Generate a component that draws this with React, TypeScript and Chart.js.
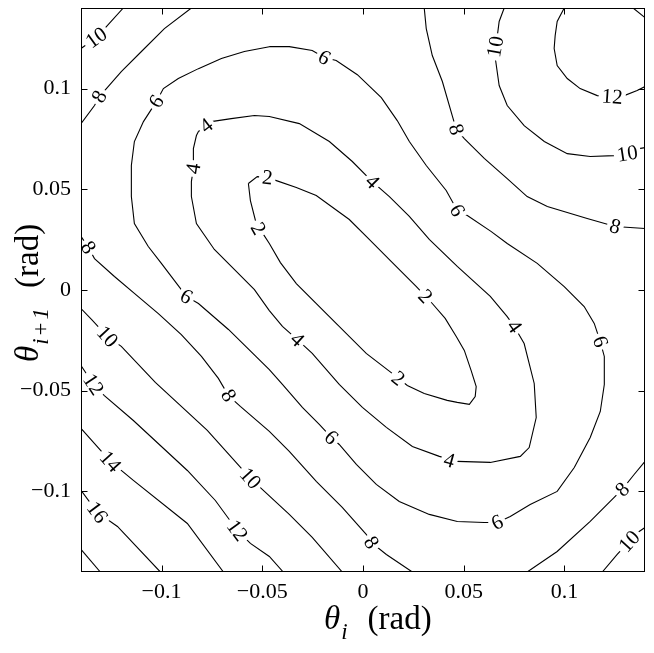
import React, { useEffect, useRef } from "react";
import { Chart, registerables } from "chart.js";

Chart.register(...registerables);

const SERIF = "'Liberation Serif', 'Times New Roman', Times, serif";

type Pt = [number, number];

// axis
const axisMin = -0.14;
const axisMax = 0.14;
const xTickValues = [-0.1, -0.05, 0, 0.05, 0.1];
const xTickLabels = ["\u22120.1", "\u22120.05", "0", "0.05", "0.1"];
const yTickValues = [-0.1, -0.05, 0, 0.05, 0.1];
const yTickLabels = ["\u22120.1", "\u22120.05", "0", "0.05", "0.1"];

// contour lines (theta_i, theta_i+1) in rad
const level2Loop: Pt[] = [
  [-0.0569, 0.0529], [-0.0525, 0.0563], [-0.0475, 0.0558], [-0.043, 0.0543], [-0.0331, 0.0509],
  [-0.0232, 0.0469], [-0.0068, 0.035], [0.0031, 0.0251], [0.0131, 0.0151], [0.0265, 0.0017],
  [0.0344, -0.0067], [0.0408, -0.0141], [0.0463, -0.0231], [0.0503, -0.03], [0.0537, -0.04],
  [0.0562, -0.0479], [0.0557, -0.0529], [0.0528, -0.0568], [0.0468, -0.0558], [0.0418, -0.0548],
  [0.0304, -0.0514], [0.022, -0.0474], [0.0145, -0.0414], [0.0016, -0.0315], [-0.0167, -0.0132],
  [-0.0331, 0.0032], [-0.041, 0.0136], [-0.0465, 0.0231], [-0.05, 0.0285], [-0.0534, 0.0345],
  [-0.0559, 0.0444], [-0.0569, 0.0529],
];

const level4Loop: Pt[] = [
  [-0.0817, 0.0787], [-0.0753, 0.0836], [-0.0654, 0.0851], [-0.0539, 0.0866], [-0.0465, 0.0861],
  [-0.0316, 0.0826], [-0.0167, 0.0737], [-0.0053, 0.0638], [0.0046, 0.0538], [0.0131, 0.0464],
  [0.023, 0.0365], [0.0329, 0.0251], [0.0468, 0.0117], [0.0632, -0.0032], [0.0716, -0.0132],
  [0.0751, -0.0181], [0.08, -0.0266], [0.085, -0.0464], [0.086, -0.0633], [0.0825, -0.0782],
  [0.0781, -0.0826], [0.0632, -0.0856], [0.0468, -0.0851], [0.0379, -0.0826], [0.0245, -0.0777],
  [0.0116, -0.0682], [-0.0003, -0.0583], [-0.0118, -0.0469], [-0.0252, -0.0315], [-0.0326, -0.0246],
  [-0.04, -0.0181], [-0.0465, -0.0102], [-0.0539, 0.0002], [-0.0639, 0.0102], [-0.0738, 0.0201],
  [-0.0827, 0.033], [-0.0852, 0.0464], [-0.0852, 0.0538], [-0.0842, 0.0603], [-0.0842, 0.0702],
  [-0.0827, 0.0767], [-0.0817, 0.0787],
];

const level6Loop: Pt[] = [
  [-0.0465, 0.1208], [-0.0366, 0.1208], [-0.0252, 0.1189], [-0.0192, 0.1154], [-0.0133, 0.1139],
  [-0.0028, 0.1069], [0.0091, 0.0955], [0.017, 0.0841], [0.023, 0.0737], [0.0314, 0.0618],
  [0.0413, 0.0494], [0.0468, 0.0395], [0.0518, 0.037], [0.0637, 0.029], [0.0716, 0.0231],
  [0.0865, 0.0132], [0.0999, 0.0017], [0.1098, -0.0082], [0.1148, -0.0166], [0.1178, -0.0256],
  [0.1198, -0.033], [0.1198, -0.0469], [0.1178, -0.0603], [0.1128, -0.0732], [0.1049, -0.0881],
  [0.0964, -0.1], [0.083, -0.1065], [0.0731, -0.1124], [0.0667, -0.1154], [0.0602, -0.1154],
  [0.0468, -0.1149], [0.0329, -0.1114], [0.018, -0.105], [0.0066, -0.0965], [-0.0033, -0.0866],
  [-0.0118, -0.0767], [-0.0157, -0.0732], [-0.0217, -0.0667], [-0.0301, -0.0583], [-0.04, -0.0469],
  [-0.0465, -0.0395], [-0.0668, -0.0196], [-0.0817, -0.0067], [-0.0877, -0.0032], [-0.0902, 0.0002],
  [-0.1001, 0.0132], [-0.1066, 0.0216], [-0.1135, 0.033], [-0.115, 0.0464], [-0.115, 0.0618],
  [-0.1135, 0.0737], [-0.109, 0.0836], [-0.1026, 0.0935], [-0.0991, 0.1], [-0.0917, 0.105],
  [-0.0817, 0.1099], [-0.0703, 0.1149], [-0.0589, 0.1184], [-0.0465, 0.1208],
];

const level8A: Pt[] = [
  [-0.14, 0.0826], [-0.1333, 0.0916], [-0.1309, 0.096], [-0.1274, 0.1], [-0.12, 0.1084],
  [-0.11, 0.1184], [-0.0986, 0.1298], [-0.0852, 0.14],
];
const level8B: Pt[] = [
  [0.0304, 0.14], [0.0314, 0.1298], [0.0344, 0.1164], [0.0394, 0.1035], [0.0443, 0.0866],
  [0.0463, 0.0797], [0.0503, 0.0752], [0.0602, 0.0653], [0.0716, 0.0553], [0.0815, 0.0464],
  [0.0915, 0.0414], [0.1113, 0.0355], [0.1252, 0.0315], [0.14, 0.0305],
];
const level8C: Pt[] = [
  [-0.14, 0.0266], [-0.1363, 0.0211], [-0.1333, 0.0156], [-0.1234, 0.0067], [-0.1135, -0.0017],
  [-0.1016, -0.0117], [-0.0902, -0.0221], [-0.0802, -0.033], [-0.0718, -0.0439], [-0.0668, -0.0524],
  [-0.0609, -0.0578], [-0.0465, -0.0702], [-0.0366, -0.0801], [-0.0232, -0.095], [-0.0103, -0.1079],
  [0.0016, -0.1213], [0.0041, -0.1253], [0.0116, -0.1313], [0.0245, -0.14],
];
const level8D: Pt[] = [
  [0.0815, -0.14], [0.0964, -0.1298], [0.1128, -0.1149], [0.1247, -0.103], [0.1287, -0.099],
  [0.1346, -0.0916], [0.14, -0.0851],
];

const level10A: Pt[] = [[-0.14, 0.1199], [-0.1324, 0.1253], [-0.1274, 0.1308], [-0.119, 0.14]];
const level10B: Pt[] = [
  [0.0701, 0.14], [0.0676, 0.1333], [0.0667, 0.1263], [0.0657, 0.1208], [0.0657, 0.1149],
  [0.0676, 0.1015], [0.0716, 0.0916], [0.08, 0.0816], [0.09, 0.0737], [0.1014, 0.0677],
  [0.1128, 0.0663], [0.1247, 0.0667], [0.1312, 0.0677], [0.1371, 0.0702], [0.14, 0.0707],
];
const level10C: Pt[] = [
  [-0.14, -0.0092], [-0.1348, -0.0146], [-0.1269, -0.0231], [-0.12, -0.028], [-0.1031, -0.0459],
  [-0.0773, -0.0697], [-0.0559, -0.0935], [-0.0366, -0.1114], [-0.0252, -0.1228], [-0.0103, -0.14],
];
const level10D: Pt[] = [[0.1188, -0.14], [0.1262, -0.1313], [0.1322, -0.1248], [0.1371, -0.1199], [0.14, -0.1179]];

const level12A: Pt[] = [
  [-0.14, -0.0375], [-0.1338, -0.0469], [-0.1284, -0.0524], [-0.114, -0.0648], [-0.0872, -0.0896],
  [-0.0733, -0.1045], [-0.0624, -0.1194], [-0.0559, -0.1258], [-0.0465, -0.1323], [-0.0396, -0.14],
];
const level12B: Pt[] = [
  [0.0999, 0.14], [0.0964, 0.1333], [0.0954, 0.1263], [0.0949, 0.1199], [0.0964, 0.1114],
  [0.1014, 0.105], [0.1078, 0.1], [0.1163, 0.0965], [0.1237, 0.096], [0.1297, 0.0965],
  [0.1361, 0.099], [0.14, 0.101],
];

const level14A: Pt[] = [[-0.14, -0.0687], [-0.1254, -0.0851], [-0.114, -0.0945], [-0.0872, -0.1159], [-0.0693, -0.14]];
const level14B: Pt[] = [[0.1341, 0.14], [0.14, 0.1352]];
const level16: Pt[] = [[-0.14, -0.0995], [-0.1319, -0.1104], [-0.1219, -0.1174], [-0.1006, -0.14]];
const level18: Pt[] = [[-0.14, -0.1288], [-0.1304, -0.14]];

const contourLines: Record<number, Pt[][]> = {
  2: [level2Loop],
  4: [level4Loop],
  6: [level6Loop],
  8: [level8A, level8B, level8C, level8D],
  10: [level10A, level10B, level10C, level10D],
  12: [level12A, level12B],
  14: [level14A, level14B],
  16: [level16],
  18: [level18],
};

// inline labels: [level, theta_i, theta_i+1]
const contourLabels: [number, number, number][] = [
  [2, -0.0475, 0.0558], [2, -0.052, 0.0305], [2, 0.0309, -0.0032], [2, 0.0175, -0.0439],
  [4, -0.0778, 0.0816], [4, -0.0842, 0.0603], [4, 0.0046, 0.0538], [4, 0.0751, -0.0181],
  [4, 0.0428, -0.0846], [4, -0.0326, -0.0246],
  [6, -0.1026, 0.0935], [6, -0.0192, 0.1154], [6, 0.0468, 0.0395], [6, 0.1178, -0.0256],
  [6, 0.0667, -0.1154], [6, -0.0157, -0.0732], [6, -0.0877, -0.0032],
  [8, -0.1309, 0.096], [8, 0.0463, 0.0797], [8, 0.1252, 0.0315], [8, -0.1363, 0.0211],
  [8, -0.0668, -0.0524], [8, 0.0041, -0.1253], [8, 0.1287, -0.099],
  [10, -0.1324, 0.1253], [10, 0.0657, 0.1208], [10, 0.1312, 0.0677], [10, -0.1269, -0.0231],
  [10, -0.0559, -0.0935], [10, 0.1322, -0.1248],
  [12, 0.1237, 0.096], [12, -0.1338, -0.0469], [12, -0.0624, -0.1194],
  [14, -0.1254, -0.0851],
  [16, -0.1319, -0.1104],
];

type Part = { text: string; italic: boolean; size: number; shift: number; gap: number };
const xTitleParts: Part[] = [
  { text: "\u03B8", italic: true, size: 33, shift: 0, gap: 0 },
  { text: "i", italic: true, size: 23, shift: 10, gap: 1 },
  { text: "(rad)", italic: false, size: 33, shift: 0, gap: 20 },
];
const yTitleParts: Part[] = [
  { text: "\u03B8", italic: true, size: 33, shift: 0, gap: 0 },
  { text: "i", italic: true, size: 23, shift: 10, gap: 1 },
  { text: "+", italic: false, size: 23, shift: 10, gap: 3 },
  { text: "1", italic: true, size: 23, shift: 10, gap: 3 },
  { text: "(rad)", italic: false, size: 33, shift: 0, gap: 20 },
];

function drawParts(ctx: CanvasRenderingContext2D, parts: Part[]) {
  let x = 0;
  ctx.textAlign = "left";
  ctx.textBaseline = "alphabetic";
  ctx.fillStyle = "#000";
  for (const p of parts) {
    x += p.gap;
    ctx.font = `${p.italic ? "italic " : ""}${p.size}px ${SERIF}`;
    ctx.fillText(p.text, x, p.shift);
    x += ctx.measureText(p.text).width;
  }
}

const framePlugin = {
  id: "frameTicksTitles",
  afterDraw(chart: any) {
    const { ctx, chartArea: a, scales } = chart;
    const sx = scales.x;
    const sy = scales.y;
    ctx.save();
    ctx.strokeStyle = "#000";
    ctx.lineWidth = 1;
    const L = Math.round(a.left) + 0.5;
    const R = Math.round(a.right) - 0.5;
    const T = Math.round(a.top) + 0.5;
    const B = Math.round(a.bottom) - 0.5;
    ctx.strokeRect(L, T, R - L, B - T);
    const tl = 6;
    ctx.beginPath();
    for (const v of xTickValues) {
      const px = Math.round(sx.getPixelForValue(v)) + 0.5;
      ctx.moveTo(px, B);
      ctx.lineTo(px, B - tl);
      ctx.moveTo(px, T);
      ctx.lineTo(px, T + tl);
    }
    for (const v of yTickValues) {
      const py = Math.round(sy.getPixelForValue(v)) + 0.5;
      ctx.moveTo(L, py);
      ctx.lineTo(L + tl, py);
      ctx.moveTo(R, py);
      ctx.lineTo(R - tl, py);
    }
    ctx.stroke();
    ctx.restore();

    // x title
    ctx.save();
    ctx.translate(324, 629);
    drawParts(ctx, xTitleParts);
    ctx.restore();
    // y title
    ctx.save();
    ctx.translate(38, 362);
    ctx.rotate(-Math.PI / 2);
    drawParts(ctx, yTitleParts);
    ctx.restore();
  },
};

const labelPlugin = {
  id: "contourLabels",
  afterDatasetsDraw(chart: any) {
    const { ctx, scales } = chart;
    const sx = scales.x;
    const sy = scales.y;
    ctx.save();
    ctx.font = `21px ${SERIF}`;
    ctx.textAlign = "center";
    ctx.textBaseline = "middle";
    for (const [lvl, lx, ly] of contourLabels) {
      const px = sx.getPixelForValue(lx);
      const py = sy.getPixelForValue(ly);
      let best = Infinity;
      let ang = 0;
      for (const line of contourLines[lvl]) {
        for (let i = 0; i < line.length - 1; i++) {
          const ax = sx.getPixelForValue(line[i][0]);
          const ay = sy.getPixelForValue(line[i][1]);
          const bx = sx.getPixelForValue(line[i + 1][0]);
          const by = sy.getPixelForValue(line[i + 1][1]);
          const dx = bx - ax;
          const dy = by - ay;
          const len2 = dx * dx + dy * dy || 1;
          let t = ((px - ax) * dx + (py - ay) * dy) / len2;
          t = Math.max(0, Math.min(1, t));
          const cx = ax + t * dx - px;
          const cy = ay + t * dy - py;
          const d = cx * cx + cy * cy;
          if (d < best) {
            best = d;
            ang = Math.atan2(dy, dx);
          }
        }
      }
      if (ang > Math.PI / 2) ang -= Math.PI;
      if (ang <= -Math.PI / 2) ang += Math.PI;
      const text = String(lvl);
      const w = ctx.measureText(text).width;
      ctx.save();
      ctx.translate(px, py);
      ctx.rotate(ang);
      ctx.fillStyle = "#fff";
      ctx.fillRect(-w / 2 - 3, -8, w + 6, 16);
      ctx.fillStyle = "#000";
      ctx.fillText(text, 0, 1);
      ctx.restore();
    }
    ctx.restore();
  },
};

export default function App() {
  const ref = useRef<HTMLCanvasElement>(null);
  useEffect(() => {
    if (!ref.current) return;
    const datasets: any[] = [];
    Object.keys(contourLines).forEach((k) => {
      for (const line of contourLines[Number(k)]) {
        datasets.push({
          label: `level ${k}`,
          data: line.map(([x, y]) => ({ x, y })),
          borderColor: "#000",
          borderWidth: 1.1,
          pointRadius: 0,
          pointHoverRadius: 0,
          fill: false,
          tension: 0,
        });
      }
    });
    const chart = new Chart(ref.current, {
      type: "line",
      data: { datasets },
      options: {
        animation: false,
        responsive: false,
        devicePixelRatio: 1,
        events: [],
        layout: { padding: { top: 8, right: 9, left: 0, bottom: 0 } },
        plugins: { legend: { display: false }, tooltip: { enabled: false } },
        scales: {
          x: {
            type: "linear",
            min: axisMin,
            max: axisMax,
            grid: { display: false, drawTicks: false },
            border: { display: false },
            afterBuildTicks: (axis: any) => {
              axis.ticks = xTickValues.map((v) => ({ value: v }));
            },
            afterFit: (scale: any) => {
              scale.height = 81;
              scale.paddingLeft = 0;
              scale.paddingRight = 0;
              scale.paddingTop = 0;
              scale.paddingBottom = 0;
            },
            ticks: {
              padding: 7,
              maxRotation: 0,
              color: "#000",
              font: { family: SERIF, size: 22 },
              callback: (_v: any, i: number) => xTickLabels[i],
            },
          },
          y: {
            type: "linear",
            min: axisMin,
            max: axisMax,
            grid: { display: false, drawTicks: false },
            border: { display: false },
            afterBuildTicks: (axis: any) => {
              axis.ticks = yTickValues.map((v) => ({ value: v }));
            },
            afterFit: (scale: any) => {
              scale.width = 81;
              scale.paddingLeft = 0;
              scale.paddingRight = 0;
              scale.paddingTop = 0;
              scale.paddingBottom = 0;
            },
            ticks: {
              padding: 10,
              color: "#000",
              font: { family: SERIF, size: 22 },
              callback: (_v: any, i: number) => yTickLabels[i],
            },
          },
        },
      },
      plugins: [labelPlugin, framePlugin],
    });
    return () => chart.destroy();
  }, []);
  return (
    <div style={{ position: "absolute", left: 0, top: 0, width: 654, height: 653, background: "#fff" }}>
      <canvas ref={ref} width={654} height={653} style={{ display: "block", width: 654, height: 653 }} />
    </div>
  );
}
